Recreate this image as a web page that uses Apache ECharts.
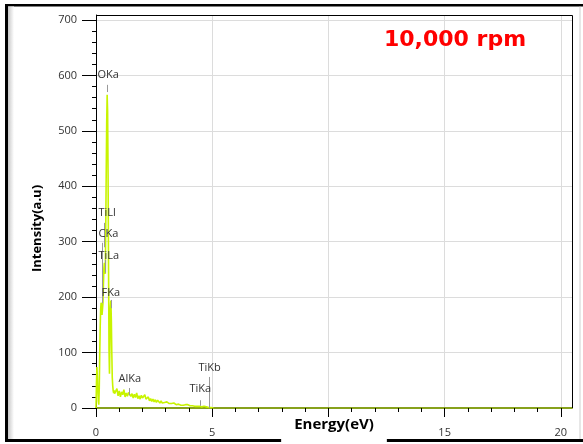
<!DOCTYPE html>
<html>
<head>
<meta charset="utf-8">
<script src="https://cdn.jsdelivr.net/npm/echarts@6/dist/echarts.min.js"></script>
<style>
html, body { margin: 0; padding: 0; background: #fff; }
#chart { width: 583px; height: 444px; }
</style>
</head>
<body>
<div id="chart"></div>
<script>
// spectrum counts near the low energy peaks, 0.00 - 0.80 keV, one value every 0.02 keV
const peakStart = 0;
const peakStep = 0.02;
const peakCounts = [0, 45, 74, 55, 30, 12, 6, 35, 95, 145, 178, 190, 182, 168, 165, 190, 225, 252, 262, 250,
  242, 330, 425, 515, 565, 535, 420, 250, 105, 62, 120, 182, 194, 160, 100, 55, 40, 31, 27, 32, 26];

// background tail, 0.85 - 5.05 keV, one value every 0.05 keV
const tailStart = 0.85;
const tailStep = 0.05;
const tailCounts = [27, 35, 22, 31, 20, 29, 24, 33, 20, 27, 21, 28, 30, 21, 26, 18, 25, 19, 27, 17,
  22, 16, 23, 18, 15, 24, 16, 14, 20, 13, 17, 12, 16, 11, 15, 10, 14, 12, 9, 13,
  9, 12, 10, 8, 11, 9, 8, 10, 8, 6, 9, 8, 6, 9, 7, 8, 5, 7, 5, 7,
  6, 4, 6, 5, 4, 6, 4, 5, 3, 4, 3, 4, 3, 4, 2, 2, 3, 1, 2, 1, 1, 2, 1, 0, 0];

const xTicks = [0, 5, 10, 15, 20];
// the "10" label sits under the axis title in the original
const xLabels = [0, 5, 15, 20];
const yTicks = [0, 100, 200, 300, 400, 500, 600, 700];

// element lines: marker position, marker top/bottom, label anchor
const lineNames = ['OKa', 'TiLl', 'CKa', 'TiLa', 'FKa', 'AlKa', 'TiKa', 'TiKb'];
const lineEnergy = [0.49, 0.345, 0.26, 0.39, 0.65, 1.44, 4.48, 4.89];
const lineTop = [583, 334, 298, 267, 195, 36, 14, 56];
const lineBottom = [570, 290, 189, 244, 180, 23, 4, 0];
const labelEnergy = [0.043, 0.086, 0.086, 0.086, 0.215, 0.947, 4.0, 4.39];
const labelValue = [601, 352, 314, 274, 208, 52, 34, 72];

const xMax = 20.48;
const yMax = 709;

// layout
const gl = 96, gr = 572, gt = 15, gb = 408;

let spectrum = [];
peakCounts.forEach((c, i) => spectrum.push([+(peakStart + i * peakStep).toFixed(3), c]));
tailCounts.forEach((c, i) => spectrum.push([+(tailStart + i * tailStep).toFixed(3), c]));

let chart = echarts.init(document.getElementById('chart'), null, { renderer: 'canvas' });

let option = {
  animation: false,
  backgroundColor: '#fff',
  textStyle: { fontFamily: 'Open Sans' },
  title: {
    text: '10,000 rpm',
    left: 384,
    top: 29,
    padding: 0,
    textStyle: { color: '#ff0000', fontSize: 22, fontWeight: 'bold', fontFamily: 'DejaVu Sans' }
  },
  grid: { left: gl, right: 583 - gr, top: gt, bottom: 444 - gb, containLabel: false, outerBoundsMode: 'none' },
  xAxis: {
    type: 'value',
    min: 0,
    max: xMax,
    interval: 5,
    name: 'Energy(eV)',
    nameLocation: 'middle',
    nameGap: 4,
    nameMoveOverlap: false,
    nameTextStyle: {
      fontSize: 15, fontWeight: 'bold', color: '#000', fontFamily: 'Open Sans',
      backgroundColor: '#fff', padding: [5, 13, 12, 13]
    },
    axisLine: { lineStyle: { color: '#87a11c', width: 2 } },
    axisTick: { length: 9, customValues: xTicks, lineStyle: { color: '#000' } },
    minorTick: { show: true, splitNumber: 5, length: 4, lineStyle: { color: '#000' } },
    axisLabel: { customValues: xLabels, margin: 19, fontSize: 11, color: '#333' },
    splitLine: { show: true, lineStyle: { color: '#dcdcdc' } }
  },
  yAxis: {
    type: 'value',
    min: 0,
    max: yMax,
    interval: 100,
    name: 'Intensity(a.u)',
    nameLocation: 'middle',
    nameGap: 52,
    nameMoveOverlap: false,
    nameTextStyle: { fontSize: 13, fontWeight: 'bold', color: '#000', fontFamily: 'Open Sans', padding: [0, 34, 0, 0] },
    axisLine: { lineStyle: { color: '#000', width: 1 } },
    axisTick: { length: 14, customValues: yTicks, lineStyle: { color: '#000' } },
    minorTick: { show: true, splitNumber: 5, length: 4, lineStyle: { color: '#000' } },
    axisLabel: { customValues: yTicks, margin: 19, fontSize: 11, color: '#333' },
    splitLine: { show: true, lineStyle: { color: '#dcdcdc' } }
  },
  series: [{
    type: 'line',
    data: spectrum,
    showSymbol: false,
    sampling: false,
    lineStyle: { color: '#c8f400', width: 1.6 },
    z: 3,
    markLine: {
      silent: true,
      symbol: ['none', 'none'],
      label: { show: false },
      lineStyle: { color: '#999', width: 1, type: 'solid' },
      data: lineNames.map((n, i) => [
        { coord: [lineEnergy[i], lineTop[i]] },
        { coord: [lineEnergy[i], lineBottom[i]] }
      ])
    },
    markPoint: {
      silent: true,
      symbol: 'rect',
      symbolSize: 1,
      itemStyle: { color: 'rgba(0,0,0,0)' },
      label: { show: true, position: 'right', distance: 0, formatter: '{b}', fontSize: 11, color: '#333', fontFamily: 'Open Sans' },
      data: lineNames.map((n, i) => ({ name: n, coord: [labelEnergy[i], labelValue[i]] }))
    }
  }],
  graphic: [
    // outer frame
    { type: 'rect', z: -10, shape: { x: 5, y: 4, width: 578, height: 2.5 }, style: { fill: '#000' } },
    { type: 'rect', z: -10, shape: { x: 5, y: 4, width: 3, height: 438 }, style: { fill: '#000' } },
    { type: 'rect', z: -10, shape: { x: 5, y: 439, width: 578, height: 3 }, style: { fill: '#000' } },
    {
      type: 'rect', z: -10, shape: { x: 8, y: 6.5, width: 6, height: 432.5 },
      style: { fill: new echarts.graphic.LinearGradient(0, 0, 1, 0, [{ offset: 0, color: '#c8c8c8' }, { offset: 1, color: '#ffffff' }]) }
    },
    { type: 'rect', z: -10, shape: { x: 579.5, y: 6.5, width: 1, height: 432.5 }, style: { fill: '#d0d0d0' } },
    // plot box top and right
    { type: 'polyline', z: 10, shape: { points: [[gl, gt + 0.5], [gr + 0.5, gt + 0.5], [gr + 0.5, gb]] }, style: { stroke: '#000', lineWidth: 1, fill: null } }
  ]
};

chart.setOption(option);
</script>
</body>
</html>
